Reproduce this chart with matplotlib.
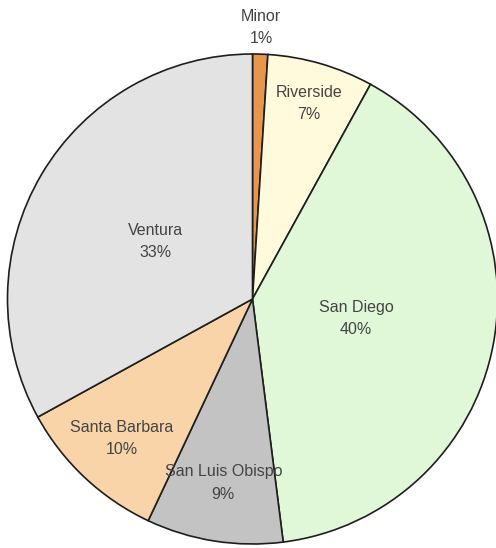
import numpy as np
import matplotlib
matplotlib.use("Agg")
import matplotlib.pyplot as plt

categories = ["Minor", "Riverside", "San Diego", "San Luis Obispo", "Santa Barbara", "Ventura"]
values = [1, 7, 40, 9, 10, 33]
colors = ["#E8954E", "#FFFADC", "#E0F8D8", "#C3C3C3", "#F8D4A8", "#E3E3E3"]
label_dist = [1.11, 0.83, 0.43, 0.76, 0.78, 0.46]

W, H = 496, 548
cx, cy, r = 252.5, 299.0, 245.0

fig = plt.figure(figsize=(W / 100, H / 100), dpi=100)
ax = fig.add_axes([0, 0, 1, 1])

wedges, _ = ax.pie(values, colors=colors, startangle=90, counterclock=False,
                   radius=1.0, wedgeprops=dict(edgecolor="#1e1e1e", linewidth=1.2))

total = sum(values)
for w, name, v, d in zip(wedges, categories, values, label_dist):
    mid = np.deg2rad((w.theta1 + w.theta2) / 2)
    x, y = d * np.cos(mid), d * np.sin(mid)
    ax.text(x, y, f"{name}\n{round(100 * v / total)}%", ha="center", va="center",
            fontsize=11.5, family="Liberation Sans", color="#444444", linespacing=1.6)

ax.set_xlim(-cx / r, (W - cx) / r)
ax.set_ylim((cy - H) / r, cy / r)
ax.set_aspect("equal")
ax.axis("off")

fig.savefig("out.png", dpi=100)
